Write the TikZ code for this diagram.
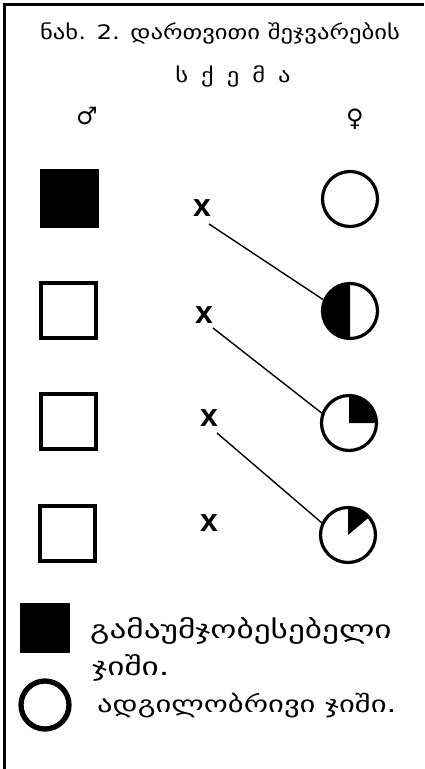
\documentclass[tikz,border=0pt]{standalone}
\usepackage{fontspec}
\newfontfamily\geo[FakeStretch=1.23]{DejaVu Sans}
\newfontfamily\geoleg[FakeStretch=1.33]{DejaVu Sans}
\newfontfamily\dvs{DejaVu Sans}
\newfontfamily\xfont{Liberation Sans}
\begin{document}
\begin{tikzpicture}[x=1pt,y=-1pt,
  title/.style={font=\geo\fontsize{20}{22}\selectfont, anchor=base, inner sep=0},
  legtext/.style={font=\geoleg\fontsize{25}{27}\selectfont, anchor=base west, inner sep=0},
  sexsym/.style={font=\dvs\fontsize{24}{26}\selectfont, inner sep=0},
  cross/.style={font=\xfont\bfseries\fontsize{32}{34}\selectfont, inner sep=0},
  male/.style={draw, line width=4pt, minimum size=55pt, inner sep=0, rectangle},
  female/.style={draw, line width=3.2pt, minimum size=55pt, inner sep=0, circle},
  link/.style={line width=1.4pt}]
\useasboundingbox (0,0) rectangle (424,769);
\fill[white] (0,0) rectangle (424,769);
% frame (top and left only)
\draw[line width=2.5pt] (4.7,769) -- (4.7,4.7) -- (424,4.7);
% title
\node[title] (t1) at (220,39) {ნახ. 2. დართვითი შეჯვარების};
\node[title] (t2) at (233,82) {ს\hspace{13pt}ქ\hspace{13pt}ე\hspace{13pt}მ\hspace{13pt}ა};
\node[sexsym] (m) at (87,116) {♂};
\node[sexsym] (f) at (355,119) {♀};
% males
\node[male, fill=black] (s1) at (69,198) {};
\node[male] (s2) at (68.5,310) {};
\node[male] (s3) at (68.5,421.5) {};
\node[male] (s4) at (67.5,533.5) {};
% crosses
\node[cross] (x1) at (202,208) {x};
\node[cross] (x2) at (204,315) {x};
\node[cross] (x3) at (209,418) {x};
\node[cross] (x4) at (209,523) {x};
% females
\node[female] (c1) at (350,199) {};
\node[female] (c2) at (350,311) {};
\node[female] (c3) at (349,423) {};
\node[female] (c4) at (348,535) {};
\fill (c2.center) ++(0,-27.5) arc[start angle=270, end angle=90, radius=27.5] -- cycle;
\fill (c3.center) -- ++(27.5,0) arc[start angle=0, end angle=-90, radius=27.5] -- cycle;
\fill (c4.center) -- ++(-40:27.5) arc[start angle=-40, end angle=-90, radius=27.5] -- cycle;
% connectors
\draw[link] ([shift={(7,16)}]x1.center) -- (c2.157);
\draw[link] ([shift={(9,13)}]x2.center) -- (c3.160);
\draw[link] ([shift={(8,15)}]x3.center) -- (c4.155);
% legend
\node[fill=black, minimum size=50pt, inner sep=0] (l1) at (45,628) {};
\node[legtext] (l1a) at (90,638) {გამაუმჯობესებელი};
\node[legtext] (l1b) at (92,675) {ჯიში.};
\node[draw, circle, line width=5.3pt, minimum size=48pt, inner sep=0] (l2) at (45,705) {};
\node[legtext, font=\geoleg\fontsize{23}{25}\selectfont] (l2a) at (97,712) {ადგილობრივი ჯიში.};
\end{tikzpicture}
\end{document}
